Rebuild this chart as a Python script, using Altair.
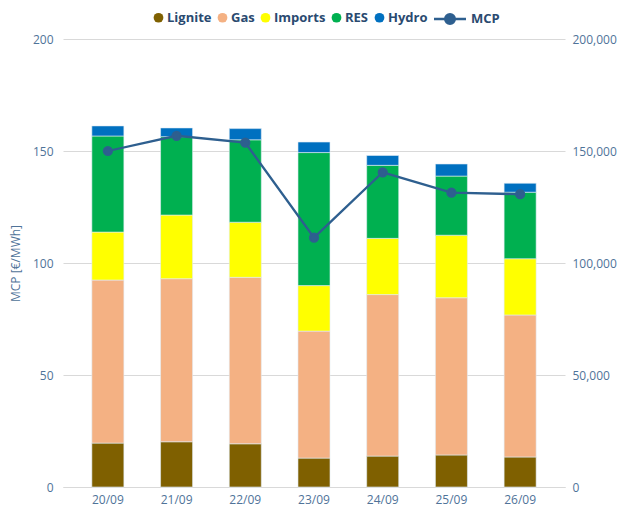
import altair as alt
import pandas as pd

dates = ["20/09", "21/09", "22/09", "23/09", "24/09", "25/09", "26/09"]
sources = ["Lignite", "Gas", "Imports", "RES", "Hydro"]
colors = ["#7f6000", "#f4b183", "#ffff00", "#00b050", "#0070c0"]
lignite = [19600, 20200, 19300, 12900, 13800, 14300, 13400]
gas = [72800, 72800, 74300, 56700, 72100, 70200, 63400]
imports = [21400, 28400, 24600, 20300, 25100, 27900, 25100]
res = [42900, 35000, 36800, 59400, 32600, 26400, 29700]
hydro = [4500, 3900, 5000, 4700, 4400, 5400, 4000]
mcp = [150.0, 156.8, 153.7, 111.3, 140.5, 131.4, 130.7]

series = [lignite, gas, imports, res, hydro]
rows = []
for si, (name, vals) in enumerate(zip(sources, series)):
    for d, v in zip(dates, vals):
        rows.append({"date": d, "source": name, "value": v, "ord": si})
bars_df = pd.DataFrame(rows)
line_df = pd.DataFrame({"date": dates, "mcp": mcp, "series": ["MCP"] * len(dates)})

label_color = "#4f7399"
legend_color = "#2a4a70"
line_color = "#2e5f8f"
font = "Open Sans"
xscale = alt.Scale(paddingInner=0.534, paddingOuter=0.42)

bars = alt.Chart(bars_df).mark_bar(stroke="#e3ecf5", strokeWidth=0.6).encode(
    x=alt.X("date:N", sort=dates, scale=xscale,
            axis=alt.Axis(title=None, labelAngle=0, ticks=False, domain=True,
                          domainColor="#d9d9d9", labelColor=label_color,
                          labelFontSize=12, labelPadding=7, labelFont=font)),
    y=alt.Y("value:Q", stack="zero",
            scale=alt.Scale(domain=[0, 200000]),
            axis=alt.Axis(orient="right", title=None, values=[0, 50000, 100000, 150000, 200000],
                          format=",d", grid=False, ticks=False, domain=False, labelOverlap=False,
                          labelColor=label_color, labelFontSize=12, labelPadding=7, labelFont=font)),
    color=alt.Color("source:N", sort=sources,
                    scale=alt.Scale(domain=sources, range=colors),
                    legend=alt.Legend(title=None, orient="none", direction="horizontal",
                                      legendX=89, legendY=-28, padding=0,
                                      symbolType="circle", symbolSize=95, symbolStrokeWidth=0,
                                      labelFontSize=13, labelFontWeight="bold",
                                      labelColor=legend_color, labelFont=font,
                                      columnPadding=4, labelOffset=2)),
    order=alt.Order("ord:Q", sort="ascending"),
)

line = alt.Chart(line_df).mark_line(strokeWidth=2.3, color=line_color,
                                    point=alt.OverlayMarkDef(size=68, filled=True, color=line_color)).encode(
    x=alt.X("date:N", sort=dates, scale=xscale),
    y=alt.Y("mcp:Q", scale=alt.Scale(domain=[0, 200]),
            axis=alt.Axis(orient="left", title="MCP [€/MWh]", values=[0, 50, 100, 150, 200],
                          grid=True, gridColor="#d9d9d9", ticks=False, domain=False,
                          labelColor=label_color, labelFontSize=12, labelPadding=10,
                          labelFont=font, titleColor=label_color, titleFont=font,
                          titleFontSize=12, titleFontWeight="normal", titlePadding=10)),
    stroke=alt.Stroke("series:N", scale=alt.Scale(domain=["MCP"], range=[line_color]),
                      legend=alt.Legend(title=None, orient="none", legendX=379, legendY=-28, padding=0,
                                        symbolType="M-2.46,0H2.46M-0.75,0a0.75,0.75 0 1,0 1.5,0a0.75,0.75 0 1,0 -1.5,0",
                                        symbolSize=169, symbolStrokeWidth=2.3,
                                        symbolFillColor=line_color, symbolStrokeColor=line_color,
                                        labelFontSize=13, labelFontWeight="bold",
                                        labelColor=legend_color, labelFont=font, labelOffset=13)),
)

chart = alt.layer(bars, line).resolve_scale(
    y="independent", color="independent", stroke="independent"
).properties(
    width=502, height=448,
    autosize=alt.AutoSizeParams(type="none"),
    padding={"left": 55, "top": 31, "right": 52, "bottom": 24},
).configure_view(stroke=None)

chart.save("out.html", embed_options={"renderer": "svg", "actions": False})
